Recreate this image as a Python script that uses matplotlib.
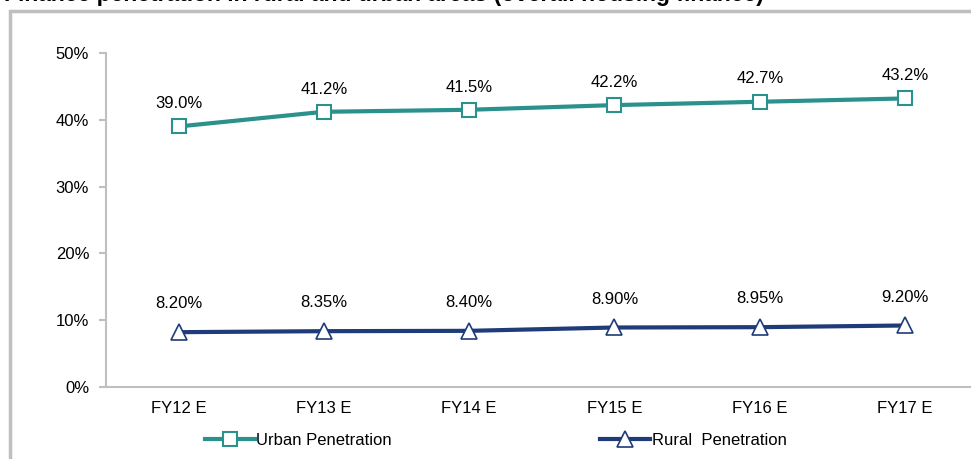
import matplotlib.pyplot as plt
from matplotlib.patches import Rectangle

plt.rcParams['font.family'] = ['Liberation Sans', 'DejaVu Sans']

# Données
years = ["FY12 E", "FY13 E", "FY14 E", "FY15 E", "FY16 E", "FY17 E"]
urban = [39.0, 41.2, 41.5, 42.2, 42.7, 43.2]
rural = [8.20, 8.35, 8.40, 8.90, 8.95, 9.20]
urban_labels = ["39.0%", "41.2%", "41.5%", "42.2%", "42.7%", "43.2%"]
rural_labels = ["8.20%", "8.35%", "8.40%", "8.90%", "8.95%", "9.20%"]

teal = "#2A918D"
navy = "#1F3B78"
grey = "#BFBFBF"

fig = plt.figure(figsize=(9.71, 4.59), dpi=100)
ax = fig.add_axes([0.109, 0.157, 0.898, 0.7275])

x = range(len(years))
l1, = ax.plot(x, urban, color=teal, lw=3, marker="s", ms=10,
              mfc="white", mec=teal, mew=1.5, label="Urban Penetration")
l2, = ax.plot(x, rural, color=navy, lw=3, marker="^", ms=11,
              mfc="white", mec=navy, mew=1.2, label="Rural  Penetration")

for i in x:
    ax.annotate(urban_labels[i], (i, urban[i]), xytext=(0, 11),
                textcoords="offset points", ha="center", va="bottom", fontsize=12)
    ax.annotate(rural_labels[i], (i, rural[i]), xytext=(0, 15),
                textcoords="offset points", ha="center", va="bottom", fontsize=12)

ax.set_xlim(-0.5, len(years) - 0.5)
ax.set_ylim(0, 50)
ax.set_yticks([0, 10, 20, 30, 40, 50])
ax.set_yticklabels(["0%", "10%", "20%", "30%", "40%", "50%"])
ax.set_xticks(list(x))
ax.set_xticklabels(years)
ax.tick_params(axis="x", length=0, pad=10, labelsize=12)
ax.tick_params(axis="y", length=5, color=grey, width=1.5, pad=7, labelsize=12)
for s in ["top", "right"]:
    ax.spines[s].set_visible(False)
for s in ["left", "bottom"]:
    ax.spines[s].set_color(grey)
    ax.spines[s].set_linewidth(1.5)

fig.legend(handles=[l1, l2], loc="center left", bbox_to_anchor=(0.204, 0.04),
           ncol=2, frameon=False, fontsize=12, handlelength=3.0,
           handletextpad=0.1, columnspacing=12.5, borderaxespad=0)

# cadre et titre coupé en haut
fig.patches.append(Rectangle((10 / 971, -0.1), 1.2, 1 - 11 / 459 + 0.1,
                             transform=fig.transFigure, fill=False,
                             ec=grey, lw=2.5))
fig.text(0.004, 1 - 1.2 / 459, "Finance penetration in rural and urban areas (overall housing finance)",
         fontsize=16.5, fontweight="bold", va="baseline", ha="left")

fig.savefig("out.png", dpi=100)
